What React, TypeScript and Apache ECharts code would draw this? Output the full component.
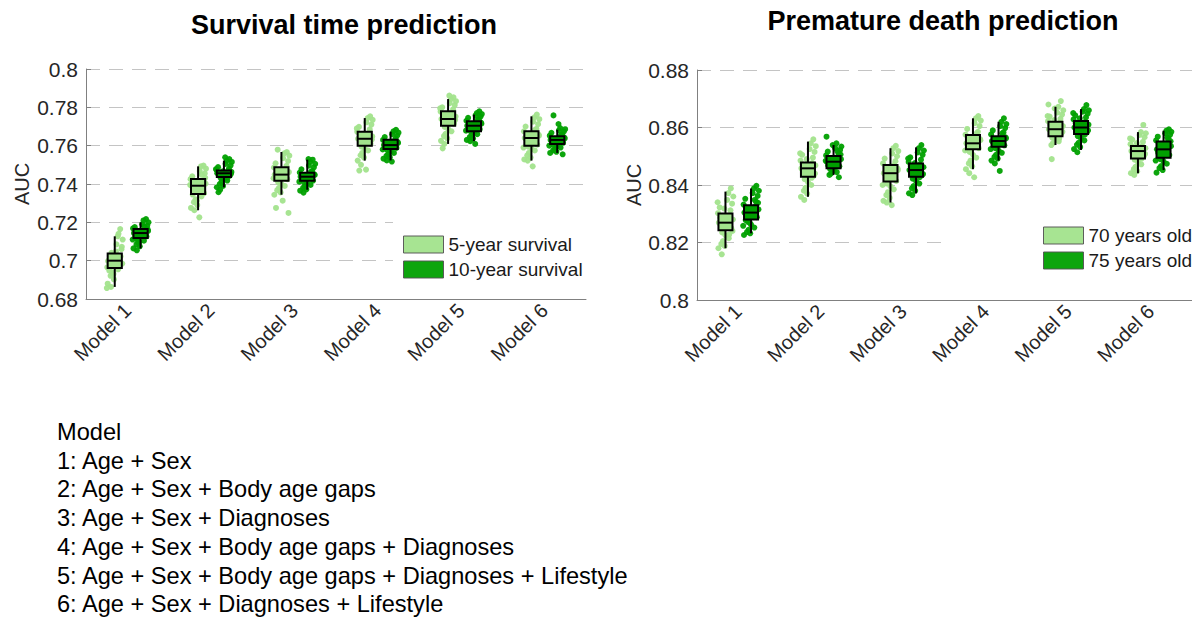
import React, { useEffect, useRef } from 'react';
import * as echarts from 'echarts';

const CATEGORIES = ['Model 1', 'Model 2', 'Model 3', 'Model 4', 'Model 5', 'Model 6'];
const LEFT_SERIES = ['5-year survival', '10-year survival'];
const RIGHT_SERIES = ['70 years old', '75 years old'];
const LEFT_TITLE = 'Survival time prediction';
const RIGHT_TITLE = 'Premature death prediction';
const Y_NAME = 'AUC';
const MODEL_DESCRIPTIONS = [
  'Model',
  '1: Age + Sex',
  '2: Age + Sex + Body age gaps',
  '3: Age + Sex + Diagnoses',
  '4: Age + Sex + Body age gaps + Diagnoses',
  '5: Age + Sex + Body age gaps + Diagnoses + Lifestyle',
  '6: Age + Sex + Diagnoses + Lifestyle',
];

// box stats: [lower whisker, Q1, median, Q3, upper whisker]
const SURV5_BOX = [
  [0.6863, 0.6962, 0.7, 0.7037, 0.7127],
  [0.7263, 0.7348, 0.7391, 0.7426, 0.7492],
  [0.7344, 0.7417, 0.7449, 0.7487, 0.7567],
  [0.7522, 0.76, 0.7636, 0.7673, 0.7744],
  [0.7609, 0.7704, 0.7739, 0.7779, 0.7843],
  [0.7522, 0.76, 0.764, 0.7675, 0.7753],
];
const SURV10_BOX = [
  [0.7064, 0.7118, 0.7144, 0.7165, 0.72],
  [0.7383, 0.7437, 0.7456, 0.7471, 0.7522],
  [0.737, 0.7417, 0.7438, 0.7459, 0.7527],
  [0.7523, 0.7583, 0.7603, 0.7631, 0.7673],
  [0.7623, 0.7675, 0.7704, 0.7727, 0.7762],
  [0.7562, 0.7609, 0.763, 0.7649, 0.7683],
];
const AGE70_BOX = [
  [0.818, 0.8243, 0.8269, 0.8301, 0.8377],
  [0.8359, 0.8429, 0.8458, 0.8478, 0.8551],
  [0.8339, 0.8412, 0.8441, 0.847, 0.8528],
  [0.8455, 0.8524, 0.8545, 0.8574, 0.8632],
  [0.8539, 0.857, 0.8594, 0.862, 0.8672],
  [0.8441, 0.8492, 0.8518, 0.8536, 0.8584],
];
const AGE75_BOX = [
  [0.8232, 0.828, 0.8304, 0.833, 0.8388],
  [0.8435, 0.8458, 0.8481, 0.8501, 0.8539],
  [0.8371, 0.8429, 0.8452, 0.8475, 0.8531],
  [0.8485, 0.8533, 0.8553, 0.857, 0.862],
  [0.8522, 0.8577, 0.86, 0.8623, 0.8664],
  [0.8452, 0.8495, 0.8524, 0.8551, 0.8589],
];

// individual AUC values (per model)
const SURV5_PTS = [
  [0.6998, 0.7012, 0.6985, 0.703, 0.697, 0.7005, 0.6992, 0.7022, 0.6965, 0.7041, 0.6979, 0.7016, 0.7001, 0.6955, 0.706, 0.694, 0.7085, 0.6921, 0.711, 0.6902, 0.7127, 0.688, 0.7165, 0.6863, 0.7048, 0.6948, 0.7072, 0.6931, 0.714, 0.6857],
  [0.7391, 0.7375, 0.7402, 0.736, 0.7415, 0.7384, 0.7398, 0.7352, 0.7425, 0.7368, 0.7409, 0.738, 0.744, 0.7335, 0.7455, 0.732, 0.7468, 0.7305, 0.748, 0.729, 0.7492, 0.7275, 0.7496, 0.7263, 0.7226, 0.7345, 0.7432, 0.7312, 0.7448, 0.7395],
  [0.7449, 0.7432, 0.7462, 0.742, 0.7478, 0.744, 0.7455, 0.7425, 0.7486, 0.741, 0.7495, 0.74, 0.7508, 0.739, 0.752, 0.738, 0.7535, 0.7368, 0.7548, 0.7356, 0.756, 0.7344, 0.7567, 0.7579, 0.7313, 0.7275, 0.7249, 0.7445, 0.747, 0.743],
  [0.7636, 0.762, 0.7648, 0.7605, 0.7665, 0.7628, 0.7642, 0.761, 0.7672, 0.7595, 0.7685, 0.7585, 0.7698, 0.7575, 0.771, 0.7562, 0.7722, 0.755, 0.7735, 0.7538, 0.7744, 0.7522, 0.7753, 0.75, 0.7475, 0.747, 0.7632, 0.7655, 0.7615, 0.769],
  [0.7739, 0.7722, 0.7752, 0.771, 0.777, 0.773, 0.7745, 0.7715, 0.7778, 0.7698, 0.779, 0.7688, 0.78, 0.7675, 0.7812, 0.7662, 0.7822, 0.765, 0.7832, 0.7638, 0.7843, 0.7625, 0.7852, 0.7609, 0.7861, 0.7586, 0.7735, 0.776, 0.7718, 0.7795],
  [0.764, 0.7625, 0.7652, 0.761, 0.7668, 0.7632, 0.7646, 0.7605, 0.7675, 0.7595, 0.7688, 0.7585, 0.77, 0.7575, 0.7712, 0.7562, 0.7725, 0.755, 0.7738, 0.7538, 0.7748, 0.7528, 0.7762, 0.7522, 0.7492, 0.7636, 0.7658, 0.7618, 0.7682, 0.759],
];
const SURV10_PTS = [
  [0.7144, 0.713, 0.7155, 0.7122, 0.716, 0.7138, 0.7149, 0.7126, 0.7168, 0.7112, 0.7135, 0.7152, 0.7175, 0.7104, 0.7183, 0.7095, 0.719, 0.7085, 0.72, 0.7075, 0.721, 0.7064, 0.7217, 0.7054, 0.7141, 0.7119, 0.7163, 0.7098, 0.7178, 0.711],
  [0.7456, 0.7447, 0.7463, 0.744, 0.7469, 0.7451, 0.7459, 0.7443, 0.7474, 0.7432, 0.748, 0.7425, 0.7488, 0.7418, 0.7496, 0.741, 0.7505, 0.74, 0.7515, 0.739, 0.7522, 0.7383, 0.753, 0.737, 0.7539, 0.7357, 0.7453, 0.7466, 0.7436, 0.7478],
  [0.7438, 0.7428, 0.7447, 0.742, 0.7455, 0.7433, 0.7442, 0.7418, 0.746, 0.741, 0.7468, 0.7402, 0.7477, 0.7395, 0.7487, 0.7388, 0.7496, 0.738, 0.7505, 0.7372, 0.7515, 0.7365, 0.7527, 0.7355, 0.753, 0.7436, 0.745, 0.7424, 0.7463, 0.7412],
  [0.7603, 0.7592, 0.7614, 0.7585, 0.7625, 0.7598, 0.7608, 0.7588, 0.763, 0.7578, 0.7638, 0.757, 0.7645, 0.7562, 0.7653, 0.7555, 0.766, 0.7547, 0.7668, 0.754, 0.7675, 0.7532, 0.7683, 0.7523, 0.7517, 0.76, 0.7618, 0.759, 0.7622, 0.758],
  [0.7704, 0.7692, 0.7715, 0.7682, 0.7725, 0.7698, 0.771, 0.7686, 0.773, 0.7675, 0.7738, 0.7668, 0.7745, 0.766, 0.7752, 0.7652, 0.7758, 0.7645, 0.7765, 0.7637, 0.777, 0.763, 0.7779, 0.7623, 0.7609, 0.77, 0.772, 0.7688, 0.7733, 0.7678],
  [0.763, 0.762, 0.7638, 0.7612, 0.7646, 0.7625, 0.7634, 0.7615, 0.7652, 0.7604, 0.766, 0.7598, 0.7667, 0.759, 0.7674, 0.7582, 0.768, 0.7575, 0.7686, 0.7568, 0.7692, 0.7562, 0.7555, 0.7758, 0.7713, 0.7628, 0.7642, 0.7618, 0.7655, 0.76],
];
const AGE70_PTS = [
  [0.8269, 0.8255, 0.828, 0.8246, 0.8295, 0.8262, 0.8274, 0.825, 0.8302, 0.8235, 0.8312, 0.8225, 0.8322, 0.8215, 0.8335, 0.8205, 0.8348, 0.8195, 0.836, 0.8188, 0.8372, 0.818, 0.8388, 0.8159, 0.8266, 0.8286, 0.824, 0.8318, 0.8228, 0.834],
  [0.8458, 0.8445, 0.8468, 0.8435, 0.8476, 0.845, 0.8462, 0.8432, 0.8485, 0.842, 0.8495, 0.841, 0.8505, 0.84, 0.8515, 0.839, 0.8525, 0.838, 0.8535, 0.837, 0.8545, 0.8359, 0.8559, 0.8348, 0.8455, 0.8472, 0.844, 0.849, 0.8425, 0.851],
  [0.8441, 0.8428, 0.8452, 0.8418, 0.8465, 0.8435, 0.8447, 0.8414, 0.8475, 0.8405, 0.8483, 0.8395, 0.8492, 0.8385, 0.85, 0.8375, 0.851, 0.8365, 0.8518, 0.8355, 0.8528, 0.8345, 0.8536, 0.8339, 0.833, 0.8438, 0.8458, 0.8422, 0.847, 0.84],
  [0.8545, 0.8532, 0.8556, 0.8526, 0.8568, 0.854, 0.855, 0.8528, 0.8575, 0.8515, 0.8585, 0.8505, 0.8595, 0.8495, 0.8605, 0.8485, 0.8615, 0.8475, 0.8624, 0.8465, 0.8632, 0.8455, 0.864, 0.8441, 0.8427, 0.8542, 0.856, 0.8535, 0.858, 0.852],
  [0.8594, 0.8582, 0.8605, 0.8574, 0.8615, 0.8588, 0.86, 0.8578, 0.8622, 0.8565, 0.863, 0.8558, 0.8638, 0.8552, 0.8645, 0.8546, 0.8652, 0.8539, 0.866, 0.8666, 0.8672, 0.868, 0.8692, 0.849, 0.8591, 0.861, 0.8585, 0.8626, 0.8562, 0.864],
  [0.8518, 0.8505, 0.8528, 0.8496, 0.8535, 0.8512, 0.8522, 0.85, 0.8542, 0.8488, 0.855, 0.848, 0.8558, 0.8472, 0.8566, 0.8463, 0.8574, 0.8455, 0.858, 0.8448, 0.8584, 0.8441, 0.8609, 0.8435, 0.8515, 0.8532, 0.8508, 0.8546, 0.8492, 0.8562],
];
const AGE75_PTS = [
  [0.8304, 0.8292, 0.8315, 0.8284, 0.8325, 0.8298, 0.831, 0.8288, 0.8332, 0.8272, 0.8342, 0.8262, 0.8352, 0.8252, 0.8362, 0.8244, 0.8372, 0.8236, 0.838, 0.8232, 0.8388, 0.8226, 0.8397, 0.83, 0.832, 0.8278, 0.8338, 0.8268, 0.8348, 0.8258],
  [0.8481, 0.847, 0.849, 0.8462, 0.8498, 0.8475, 0.8486, 0.8465, 0.8503, 0.8455, 0.851, 0.845, 0.8516, 0.8445, 0.8522, 0.844, 0.8528, 0.8435, 0.8534, 0.8539, 0.8545, 0.8568, 0.8427, 0.8478, 0.8494, 0.8468, 0.8506, 0.8458, 0.8518, 0.8484],
  [0.8452, 0.844, 0.8462, 0.8432, 0.8472, 0.8446, 0.8457, 0.8435, 0.848, 0.8422, 0.8488, 0.8414, 0.8496, 0.8405, 0.8505, 0.8396, 0.8513, 0.8388, 0.852, 0.838, 0.8528, 0.8371, 0.8539, 0.8365, 0.845, 0.8466, 0.8438, 0.8476, 0.8427, 0.8492],
  [0.8553, 0.8542, 0.8562, 0.8536, 0.857, 0.8548, 0.8558, 0.8538, 0.8576, 0.8528, 0.8583, 0.852, 0.859, 0.8512, 0.8598, 0.8505, 0.8605, 0.8498, 0.8612, 0.8492, 0.862, 0.8485, 0.8632, 0.8475, 0.8449, 0.855, 0.8566, 0.8545, 0.858, 0.8525],
  [0.86, 0.8588, 0.861, 0.858, 0.862, 0.8594, 0.8605, 0.8583, 0.8628, 0.857, 0.8635, 0.8562, 0.8642, 0.8555, 0.8648, 0.8547, 0.8655, 0.854, 0.866, 0.8532, 0.8664, 0.8525, 0.8678, 0.8514, 0.8597, 0.8615, 0.859, 0.8632, 0.8575, 0.865],
  [0.8524, 0.851, 0.8535, 0.85, 0.8548, 0.8518, 0.853, 0.8504, 0.8555, 0.849, 0.8562, 0.8482, 0.8568, 0.8474, 0.8575, 0.8466, 0.858, 0.8459, 0.8585, 0.8452, 0.8589, 0.8443, 0.8594, 0.852, 0.854, 0.8512, 0.8552, 0.8496, 0.8565, 0.8485],
];
// horizontal jitter pattern (fraction of jitter half-width)
const JITTER = [-0.8, 0.3, 0.9, -0.2, 0.5, -0.6, 0.1, 0.7, -0.9, -0.4, 0.6, 0.0, -0.7, 0.4, 0.8, -0.3, 0.2, -0.5, 0.95, -0.1, 0.35, -0.85, 0.65, -0.45, 0.15, -0.65, 0.85, -0.15, 0.45, -0.95];

const LIGHT = '#a2e38c';
const DARK = '#00a000';
const FONT = '"Liberation Sans", Arial, Helvetica, sans-serif';
const OFFSET = 0.155;
const JW = 0.1;
const HW = 0.085;

function scatterData(pts: number[][], side: number) {
  const out: number[][] = [];
  pts.forEach((g, i) => g.forEach((y, k) => out.push([i + 0.5 + side * OFFSET + JITTER[k % JITTER.length] * JW, y])));
  return out;
}
function boxData(stats: number[][], side: number) {
  return stats.map((s, i) => [i + 0.5 + side * OFFSET, ...s]);
}
function renderBox(color: string) {
  return (params: any, api: any) => {
    const x = api.value(0);
    const lo = api.coord([x, api.value(1)]);
    const q1 = api.coord([x, api.value(2)]);
    const md = api.coord([x, api.value(3)]);
    const q3 = api.coord([x, api.value(4)]);
    const hi = api.coord([x, api.value(5)]);
    const l = api.coord([x - HW, api.value(4)])[0];
    const r = api.coord([x + HW, api.value(4)])[0];
    const ls = { stroke: '#000', lineWidth: 2 };
    return {
      type: 'group',
      children: [
        { type: 'line', shape: { x1: hi[0], y1: hi[1], x2: q3[0], y2: q3[1] }, style: ls },
        { type: 'line', shape: { x1: q1[0], y1: q1[1], x2: lo[0], y2: lo[1] }, style: ls },
        { type: 'rect', shape: { x: l, y: q3[1], width: r - l, height: q1[1] - q3[1] }, style: { fill: color, stroke: '#000', lineWidth: 2 } },
        { type: 'line', shape: { x1: l, y1: md[1], x2: r, y2: md[1] }, style: ls },
      ],
    };
  };
}

const axisLineStyle = { color: '#808080', width: 1 };
function catAxis(grid: number) {
  return {
    type: 'category', gridIndex: grid, data: CATEGORIES, boundaryGap: true,
    axisLine: { lineStyle: axisLineStyle },
    axisTick: { inside: true, length: 5, alignWithLabel: true, lineStyle: axisLineStyle },
    axisLabel: { rotate: 45, fontSize: 20, color: '#262626', fontFamily: FONT, margin: 8 },
    splitLine: { show: false },
  };
}
function valAxisX(grid: number) {
  return { type: 'value', gridIndex: grid, min: 0, max: 6, show: false };
}
function yAxis(grid: number, min: number, max: number, gap: number) {
  return {
    type: 'value', gridIndex: grid, min, max, interval: 0.02,
    name: Y_NAME, nameLocation: 'middle', nameRotate: 90, nameGap: gap,
    nameTextStyle: { fontSize: 20, color: '#262626', fontFamily: FONT },
    axisLine: { show: true, lineStyle: axisLineStyle },
    axisTick: { show: true, inside: true, length: 5, lineStyle: axisLineStyle },
    axisLabel: { fontSize: 21, color: '#262626', fontFamily: FONT, margin: 8, formatter: (v: number) => String(parseFloat(v.toFixed(2))) },
    splitLine: { show: true, lineStyle: { color: '#c4c4c4', type: [14, 9], width: 1 } },
  };
}

function scatterSeries(name: string, pts: number[][], side: number, color: string, xi: number, yi: number) {
  return {
    type: 'scatter', name, xAxisIndex: xi, yAxisIndex: yi, data: scatterData(pts, side),
    symbolSize: 6, itemStyle: { color, opacity: 0.95 }, z: 2,
  };
}
function boxSeries(name: string, stats: number[][], side: number, color: string, xi: number, yi: number) {
  return {
    type: 'custom', name, xAxisIndex: xi, yAxisIndex: yi, data: boxData(stats, side),
    renderItem: renderBox(color), encode: { x: 0, y: [1, 2, 3, 4, 5] }, z: 3,
  };
}

function legend(names: string[], left: number, top: number, padding: number[]) {
  return {
    orient: 'vertical', left, top, padding, itemGap: 6, itemWidth: 40, itemHeight: 17,
    backgroundColor: '#fff', icon: 'rect', selectedMode: false,
    textStyle: { fontSize: 19, color: '#1a1a1a', fontFamily: FONT },
    data: [
      { name: names[0], itemStyle: { color: LIGHT, borderColor: '#555', borderWidth: 1 } },
      { name: names[1], itemStyle: { color: DARK, borderColor: '#555', borderWidth: 1 } },
    ],
  };
}

export default function App() {
  const ref = useRef<HTMLDivElement>(null);
  useEffect(() => {
    if (!ref.current) return;
    const chart = echarts.init(ref.current, null, { renderer: 'svg' });
    const graphics: any[] = [
      { type: 'text', x: 344, y: 25, style: { text: LEFT_TITLE, font: `bold 27px ${FONT}`, fill: '#000', textAlign: 'center', textVerticalAlign: 'middle' } },
      { type: 'text', x: 943, y: 21, style: { text: RIGHT_TITLE, font: `bold 27px ${FONT}`, fill: '#000', textAlign: 'center', textVerticalAlign: 'middle' } },
      ...MODEL_DESCRIPTIONS.map((t, i) => ({
        type: 'text', x: 57, y: 432 + i * 28.7,
        style: { text: t, font: `23.6px ${FONT}`, fill: '#000', textAlign: 'left', textVerticalAlign: 'middle' },
      })),
    ];
    chart.setOption({
      animation: false,
      backgroundColor: '#fff',
      grid: [
        { left: 86, top: 69, width: 500, height: 230 },
        { left: 697, top: 70, width: 500, height: 230 },
      ],
      xAxis: [catAxis(0), valAxisX(0), catAxis(1), valAxisX(1)],
      yAxis: [yAxis(0, 0.68, 0.8, 54), yAxis(1, 0.8, 0.88, 52)],
      legend: [
        legend(LEFT_SERIES, 393, 222, [13, 4, 7, 10]),
        legend(RIGHT_SERIES, 950, 202, [24, 10, 12, 93]),
      ],
      series: [
        scatterSeries(LEFT_SERIES[0], SURV5_PTS, -1, LIGHT, 1, 0),
        scatterSeries(LEFT_SERIES[1], SURV10_PTS, 1, DARK, 1, 0),
        boxSeries(LEFT_SERIES[0] + ' box', SURV5_BOX, -1, LIGHT, 1, 0),
        boxSeries(LEFT_SERIES[1] + ' box', SURV10_BOX, 1, DARK, 1, 0),
        scatterSeries(RIGHT_SERIES[0], AGE70_PTS, -1, LIGHT, 3, 1),
        scatterSeries(RIGHT_SERIES[1], AGE75_PTS, 1, DARK, 3, 1),
        boxSeries(RIGHT_SERIES[0] + ' box', AGE70_BOX, -1, LIGHT, 3, 1),
        boxSeries(RIGHT_SERIES[1] + ' box', AGE75_BOX, 1, DARK, 3, 1),
      ],
      graphic: graphics,
    });
    return () => chart.dispose();
  }, []);
  return <div ref={ref} style={{ position: 'absolute', left: 0, top: 0, width: 1192, height: 617 }} />;
}
